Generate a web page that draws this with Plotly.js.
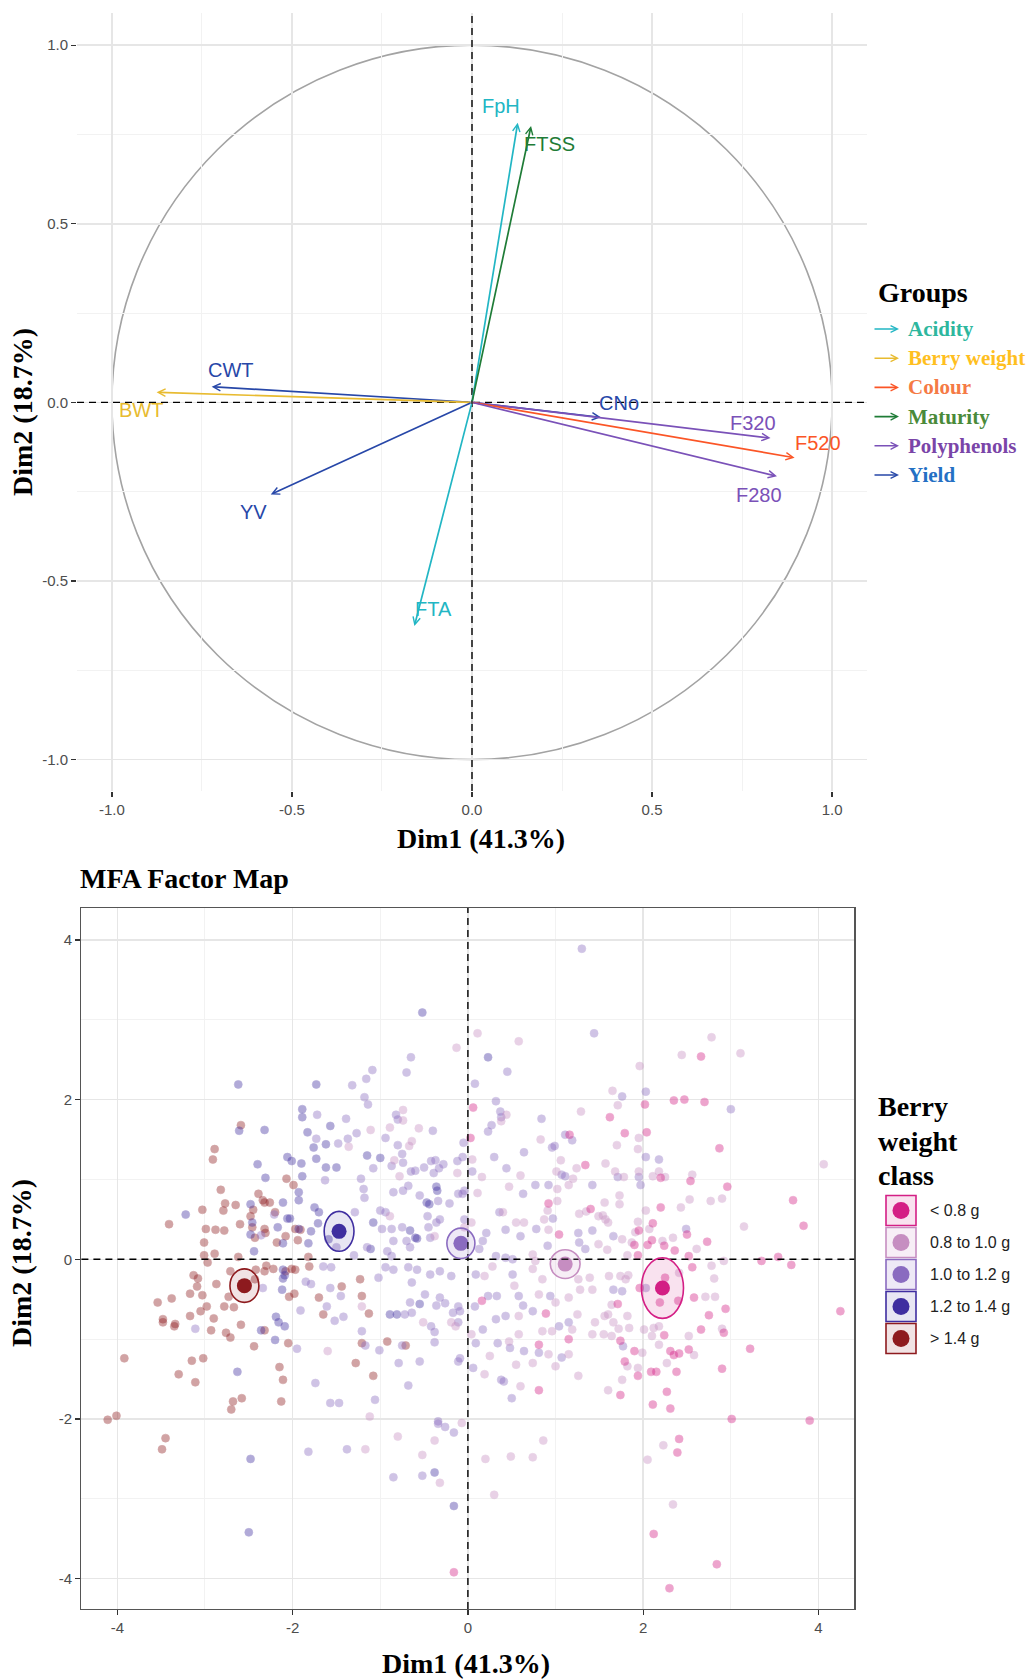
<!DOCTYPE html>
<html>
<head>
<meta charset="utf-8">
<script src="https://cdn.plot.ly/plotly-3.0.1.min.js"></script>
<style>html,body{margin:0;padding:0;background:#fff;}#chart{width:1030px;height:1679px;}</style>
</head>
<body>
<div id="chart"></div>
<script>
// ---------------- DATA: variables (correlation circle) ----------------
const varNames  = ['FpH','FTSS','CWT','BWT','YV','FTA','CNo','F320','F520','F280'];
const varGroups = ['Acidity','Maturity','Yield','Berry weight','Yield','Acidity','Yield','Polyphenols','Colour','Polyphenols'];
const varDim1   = [0.127, 0.164, -0.723, -0.876, -0.559, -0.160, 0.358, 0.829, 0.896, 0.847];
const varDim2   = [0.783, 0.774, 0.044, 0.028, -0.258, -0.626, -0.042, -0.100, -0.155, -0.207];
const groupNames = ['Acidity','Berry weight','Colour','Maturity','Polyphenols','Yield'];
const circleTickVals = [-1, -0.5, 0, 0.5, 1];
const circleTickText = ['-1.0','-0.5','0.0','0.5','1.0'];

// ---------------- DATA: individuals (MFA factor map) ----------------
const classNames = ['< 0.8 g','0.8 to 1.0 g','1.0 to 1.2 g','1.2 to 1.4 g','> 1.4 g'];
const ptsLt08 = [[2.66,2.54],[2.02,1.94],[2.35,1.99],[2.47,2.00],[2.70,1.97],[0.06,1.90],[1.62,1.78],[0.03,1.52],[1.16,1.56],[1.79,1.58],[2.04,1.59],[2.87,1.39],[1.34,1.18],[2.20,1.02],[2.54,0.98],
 [0.92,0.70],[1.40,0.63],[1.04,0.31],[0.16,-0.52],[0.89,-0.68],[1.15,-1.00],[0.81,-1.07],[0.81,-1.64],
 [2.96,0.91],[3.71,0.74],[3.83,0.42],[2.20,0.65],[2.11,0.45],[1.95,0.36],[2.50,0.31],[1.90,0.18],[2.05,0.18],[2.10,0.24],[2.24,0.17],[2.36,0.11],[2.73,0.22],[1.94,0.05],[2.52,0.04],[3.35,-0.02],[3.54,0.03],[3.69,-0.07],[2.56,-0.10],[1.96,-0.36],[2.25,-0.23],[2.58,-0.48],[2.94,-0.62],[2.75,-0.70],[2.40,-0.52],[2.19,-0.54],[1.71,-0.56],[1.74,-1.02],[2.24,-0.95],[2.66,-0.88],[2.92,-0.92],[3.22,-1.12],[4.25,-0.65],[1.90,-1.15],[2.31,-1.15],[2.35,-1.20],[2.41,-1.18],[2.52,-1.13],[1.79,-1.28],[1.94,-1.46],[2.09,-1.41],[2.15,-1.41],[2.38,-1.41],[2.90,-1.37],[1.74,-1.70],[2.27,-1.66],[2.11,-1.82],[2.31,-1.87],[3.01,-2.00],[3.90,-2.02],
 [2.41,-2.25],[2.39,-2.42],[2.12,-3.44],[2.84,-3.82],[2.30,-4.12],[-0.16,-3.92]];
const pts08to10 = [[-0.13,2.65],[-0.74,1.87],[-0.74,1.74],[-1.11,1.62],[-0.89,1.65],[-0.56,1.64],[-1.36,1.41],[-0.64,1.48],[-0.67,1.42],[-0.84,1.24],[-0.12,1.08],[-0.78,1.04],
 [0.11,2.83],[0.58,2.73],[1.96,2.42],[2.44,2.56],[2.78,2.78],[3.11,2.58],[1.65,2.11],[1.71,1.93],[0.38,1.73],[0.44,1.81],[1.29,1.85],[0.83,1.50],[1.95,1.52],[1.70,1.43],[1.94,1.38],[0.05,1.25],[1.06,1.24],[1.24,1.14],[1.57,1.20],[0.16,1.03],[0.60,1.05],[1.01,1.10],[1.20,1.01],[1.68,1.10],[1.78,1.03],[1.95,1.10],[2.11,1.04],[2.18,1.10],[2.25,1.03],[2.56,1.06],[4.06,1.19],
 [-1.60,-1.15],
 [-0.89,0.54],[-0.04,0.40],[0.04,0.46],[-0.38,0.29],[0.11,0.83],[0.47,0.91],[1.02,0.88],[1.15,0.93],[1.02,0.73],[0.91,0.61],[1.27,0.57],[1.49,0.54],[1.35,0.60],[0.87,0.50],[0.40,0.59],[0.55,0.46],[0.64,0.46],[0.92,0.37],[1.49,0.19],[0.74,0.06],[0.77,-0.02],[-1.21,-0.59],[-0.51,-0.79],[-0.19,-0.79],[-0.14,-0.84],[-1.12,-1.97],[0.19,-0.21],[0.28,-0.09],[0.53,-0.33],[0.74,-0.12],[0.85,-0.25],[0.81,-0.44],[1.00,-0.54],[1.15,-0.48],[1.26,-0.25],[1.28,-0.38],[1.39,-0.23],[1.42,-0.38],[1.25,-0.69],[1.19,-0.88],[0.96,-0.90],[0.85,-0.90],[0.92,-1.19],[1.15,-1.19],[1.26,-1.46],[1.45,-0.79],[1.42,-0.94],[0.58,-0.71],[0.04,-0.94],[0.47,-1.03],[0.58,-0.94],[0.25,-1.21],[0.55,-1.32],[0.74,-1.30],[0.19,-1.44],[0.60,-1.59],[1.00,-1.34],
 [3.15,0.41],[1.56,0.71],[1.73,0.69],[1.73,0.80],[2.03,0.61],[2.43,0.65],[2.53,0.75],[2.77,0.73],[2.90,0.76],[1.54,0.55],[1.57,0.50],[1.60,0.46],[1.94,0.47],[1.91,0.34],[2.07,0.38],[1.76,0.25],[1.87,0.21],[2.22,0.23],[2.34,0.27],[2.61,0.13],[1.59,0.12],[1.82,0.05],[2.92,-0.02],[2.78,-0.08],[2.81,-0.24],[1.61,-0.21],[1.74,-0.21],[1.83,-0.20],[1.80,-0.25],[2.41,-0.17],[2.71,-0.47],[2.82,-0.47],[1.64,-0.57],[1.60,-0.69],[1.66,-0.79],[1.82,-0.71],[1.56,-0.71],[1.84,-0.86],[1.72,-0.87],[2.01,-0.88],[2.12,-0.86],[2.18,-0.84],[1.55,-0.94],[1.64,-0.96],[2.10,-0.96],[2.18,-1.07],[2.52,-0.96],[2.90,-0.87],[1.99,-1.17],[2.58,-1.20],[1.82,-1.34],[1.94,-1.36],[2.27,-1.30],[1.76,-1.51],[1.60,-1.64],
 [-1.17,-2.38],[-0.80,-2.22],[-0.38,-2.27],[-0.07,-2.05],[-0.52,-2.45],[-0.32,-2.80],[0.20,-2.50],[0.49,-2.47],[0.74,-2.48],[0.86,-2.27],[0.30,-2.95],[2.05,-2.51],[2.23,-2.33],[2.34,-3.07]];
const pts10to12 = [[-0.70,2.34],[-1.09,2.37],[-1.16,2.26],[-1.32,2.18],[-1.18,2.03],[-1.14,1.94],[-1.72,1.81],[-1.39,1.76],[-0.40,1.61],[-1.27,1.58],[-1.73,1.51],[-1.37,1.51],[-0.94,1.52],[-1.48,1.45],[-0.80,1.43],[-0.05,1.46],[-1.08,1.14],[-0.75,1.32],[-0.50,1.15],[-0.12,1.23],[-0.06,1.28],[-0.39,1.08],[-1.63,0.99],[-1.22,1.01],
 [-0.65,1.10],[-0.60,1.11],[-0.42,1.23],[-0.37,1.24],[-0.33,1.14],[-0.28,1.19],[-0.82,1.81],[-0.80,1.75],[-0.87,1.17],[-0.74,1.21],[-0.65,2.53],
 [1.30,3.89],[1.44,2.83],[0.45,2.35],[0.08,2.20],[1.76,2.04],[2.03,2.10],[3.00,1.88],[0.32,1.98],[0.37,1.85],[0.38,1.78],[0.27,1.68],[0.23,1.60],[0.84,1.76],[0.96,1.40],[0.99,1.42],[1.11,1.56],[1.19,1.49],[0.64,1.34],[0.30,1.28],[2.03,1.28],[2.18,1.25],[0.44,1.14],[0.05,1.10],[1.07,1.06],[1.11,1.04],[1.71,1.03],[1.95,1.03],
 [-2.21,0.56],[-2.36,0.30],[-1.65,-0.09],[-1.56,-0.10],[-1.50,0.15],[-2.34,-0.36],[-1.85,-0.28],[-1.79,-0.31],[-1.57,-0.36],[-1.45,-0.46],[-1.61,-0.59],[-1.91,-0.64],[-1.52,-0.77],[-1.42,-0.72],[-1.95,-1.12],[-3.11,-0.87],[-1.74,-1.55],[-1.57,-1.80],[-1.47,-1.80],
 [-1.19,0.88],[-1.18,0.77],[-0.85,0.84],[-0.74,0.86],[-0.68,0.92],[-0.55,0.80],[-0.34,0.73],[-0.21,0.70],[-0.11,0.82],[0.63,0.82],[0.92,0.93],[1.42,0.93],[0.36,0.59],[0.43,0.37],[0.60,0.29],[0.78,0.38],[1.26,0.33],[1.42,0.36],[1.27,0.21],[1.34,0.13],[0.91,0.17],[-1.29,0.59],[-1.00,0.61],[-0.94,0.59],[-0.98,0.38],[-0.87,0.38],[-0.75,0.40],[-0.85,0.23],[-0.70,0.23],[-0.66,0.15],[-0.45,0.40],[-0.36,0.46],[-0.32,0.50],[-0.46,0.54],[-0.04,0.50],[0.17,0.23],[0.13,0.13],[-1.15,0.15],[-0.92,0.10],[-0.87,0.04],[-1.30,0.05],[-0.43,0.27],[0.32,0.04],[0.43,0.02],[0.51,0.00],
 [-0.94,-0.10],[-0.85,-0.13],[-0.68,-0.10],[-0.58,-0.13],[-1.02,-0.23],[-0.43,-0.19],[-0.32,-0.15],[-0.19,-0.21],[-0.64,-0.29],[-0.49,-0.44],[-0.32,-0.48],[-0.26,-0.55],[-0.66,-0.54],[-0.11,-0.59],[-0.36,-0.58],[-0.17,-0.67],[-0.72,-0.69],[-0.64,-0.67],[-0.42,-0.84],[-0.38,-0.91],[-0.11,-0.79],[-1.21,-0.90],[-1.17,-1.08],[-0.75,-1.08],[-1.01,-1.14],[-0.79,-1.30],[-0.55,-1.28],[-0.38,-1.04],[-0.11,-1.28],[-0.09,-1.24],[-0.68,-1.58],[-1.06,-1.76],[-0.34,-2.03],[0.08,-0.59],[0.23,-0.46],[0.33,-0.46],[0.09,-0.19],[0.51,-0.19],[0.58,-0.46],[0.63,-0.58],[0.74,-0.65],[0.94,-0.46],[1.15,-0.79],[1.04,-0.84],[0.81,-1.17],[1.07,-1.23],[0.43,-0.71],[0.32,-0.75],[0.17,-0.88],[0.09,-1.05],[0.34,-1.05],[0.48,-1.11],[0.64,-1.15],[0.06,-1.36],[0.38,-1.51],[0.41,-1.53],[0.50,-1.74],
 [-0.06,0.82],[-0.04,0.86],[0.77,0.93],[0.97,0.51],[0.21,0.33],[-0.09,-0.65],
 [1.97,0.93],[1.66,0.29],[2.49,0.38],[1.66,-0.38],[1.76,-0.40],[2.03,-0.36],[1.77,-1.09],
 [-1.82,-2.41],[-1.38,-2.38],[-0.34,-2.06],[-0.26,-2.10],[-0.16,-2.17],[-0.85,-2.73],[-0.52,-2.71]];
const pts12to14 = [[-0.52,3.09],[-1.73,2.19],[-2.62,2.19],[-1.89,1.88],[-1.89,1.78],[-1.57,1.67],[-2.61,1.61],[-2.32,1.62],[-1.83,1.59],[-1.62,1.44],[-1.76,1.40],[-2.40,1.19],[-2.06,1.28],[-2.01,1.23],[-1.90,1.20],[-1.73,1.26],[-1.62,1.15],[-1.50,1.15],[-1.15,1.30],[-1.00,1.27],[-2.31,1.02],[-1.89,1.04],
 [0.23,2.53],
 [-3.22,0.56],[-2.48,0.69],[-2.46,0.46],[-2.11,0.71],[-2.06,0.51],[-2.03,0.51],[-1.93,0.84],[-1.93,0.74],[-1.93,0.38],[-2.48,0.31],[-2.17,0.40],[-2.11,0.20],[-1.82,0.20],[-2.44,0.10],[-1.79,0.35],[-1.75,0.65],[-1.70,0.59],[-1.71,0.45],[-1.59,0.25],[-2.11,-0.13],[-2.11,-0.24],[-2.09,-0.20],[-2.12,-0.38],[-2.19,-0.72],[-2.16,-0.79],[-2.09,-0.84],[-2.36,-0.89],[-2.20,-1.01],[-2.63,-1.41],
 [-0.36,0.91],[-0.35,0.86],[-0.47,0.71],[-0.44,0.69],[-1.08,0.46],[-0.66,0.36],[-0.60,0.27],[-0.58,0.26],[-1.11,0.13],[-0.55,-0.56],[-0.89,-0.69],[-0.81,-0.69],
 [-2.48,-2.50],[-0.38,-2.67],[-0.16,-3.09],[-2.50,-3.42]];
const ptsGt14 = [[-2.59,1.68],[-2.89,1.38],[-2.91,1.25],[-2.07,1.01],
 [-3.41,0.44],[-2.82,0.87],[-2.77,0.70],[-2.79,0.61],[-2.65,0.68],[-3.03,0.62],[-2.99,0.38],[-2.88,0.37],[-2.78,0.36],[-3.01,0.21],[-3.01,0.05],[-2.89,0.07],[-2.97,-0.04],[-2.60,0.44],[-2.62,0.03],[-2.45,0.62],[-2.48,0.54],[-2.46,0.40],[-2.39,0.82],[-2.34,0.74],[-2.26,0.71],[-2.32,0.71],[-2.20,0.59],[-1.99,0.93],[-1.97,0.38],[-1.91,0.37],[-2.32,0.38],[-2.31,0.33],[-2.43,0.27],[-2.08,0.29],[-2.18,0.21],[-1.94,0.24],[-1.82,0.03],[-1.81,-0.09],[-2.30,-0.08],[-2.32,-0.15],[-2.22,-0.12],[-2.42,-0.13],[-2.43,-0.25],[-2.71,-0.15],[-3.13,-0.20],[-3.08,-0.24],[-3.09,-0.34],[-3.17,-0.43],[-3.03,-0.45],[-2.87,-0.31],[-2.73,-0.47],[-2.98,-0.59],[-3.05,-0.65],[-3.38,-0.49],[-3.54,-0.54],[-3.48,-0.75],[-3.48,-0.79],[-3.34,-0.81],[-3.35,-0.84],[-3.17,-0.71],[-2.90,-0.74],[-2.93,-0.89],[-2.78,-0.59],[-2.67,-0.60],[-2.76,-0.92],[-2.71,-0.98],[-2.59,-0.82],[-2.44,-1.09],[-2.08,-0.15],[-2.01,-0.12],[-1.97,-0.13],[-2.04,-0.47],[-1.98,-0.43],[-1.70,-0.48],[-1.44,-0.34],[-1.65,-0.69],[-2.32,-0.89],[-2.05,-1.05],[-3.92,-1.24],[-3.15,-1.27],[-3.02,-1.24],[-3.30,-1.44],[-3.11,-1.54],[-2.15,-1.35],[-2.11,-1.51],[-2.13,-1.78],[-2.68,-1.78],[-2.58,-1.74],[-2.70,-1.88],[-4.11,-2.01],[-4.01,-1.96],
 [-1.23,-0.25],[-1.21,-0.46],[-1.13,-0.68],[-1.21,-1.05],[-0.92,-1.03],[-0.71,-1.08],[-1.28,-1.30],[-1.08,-1.46],
 [-3.45,-2.24],[-3.49,-2.38]];
const centroidDim1 = [2.22, 1.11, -0.08, -1.47, -2.55];
const centroidDim2 = [-0.36, -0.06, 0.20, 0.35, -0.33];
const ellipseHalfDim1 = [0.24, 0.17, 0.16, 0.17, 0.165];
const ellipseHalfDim2 = [0.38, 0.18, 0.19, 0.25, 0.21];
const mapTickVals = [-4, -2, 0, 2, 4];
const mapTickText = ['-4','-2','0','2','4'];

// ---------------- STYLES ----------------
const W = 1030, H = 1679;
const px = v => v / W, py = v => 1 - v / H;
const groupArrowColors = {'Acidity':'#22B6C4','Berry weight':'#E8BB30','Colour':'#FB5526','Maturity':'#1F7C37','Polyphenols':'#7A51B8','Yield':'#2747A8'};
const groupTextColors  = {'Acidity':'#2DB79E','Berry weight':'#FFBF1F','Colour':'#F57A45','Maturity':'#4A8A3A','Polyphenols':'#7A45A8','Yield':'#2470C4'};
const labelShift = {FpH:[-17,17],FTSS:[18,-18],CWT:[19,17],BWT:[-16,-18],YV:[-17,-17],FTA:[19,17],CNo:[18,14],F320:[-18,15],F520:[23,15],F280:[-18,-19]};
const classColors = ['#D41F85','#C68EC1','#8A6BC0','#3F2EA0','#8E1B1E'];
const classFills  = ['rgba(212,31,133,0.13)','rgba(198,142,193,0.15)','rgba(138,107,192,0.15)','rgba(63,46,160,0.12)','rgba(142,27,30,0.12)'];
const serif = 'Liberation Serif, Times New Roman, serif';
const sans = 'Liberation Sans, Arial, sans-serif';
const classPts = [ptsLt08, pts08to10, pts10to12, pts12to14, ptsGt14];

const traces = [];
traces.push({x: varDim1, y: varDim2, type:'scatter', mode:'markers', marker:{opacity:0}, hoverinfo:'text', text: varNames, xaxis:'x', yaxis:'y', showlegend:false});
const drawOrder = [4,3,2,1,0];
drawOrder.forEach(i => {
  traces.push({x: classPts[i].map(p=>p[0]), y: classPts[i].map(p=>p[1]), type:'scatter', mode:'markers', name: classNames[i],
    marker:{size:8, color: classColors[i], opacity:0.4, line:{width:0.6, color: classColors[i]}}, xaxis:'x2', yaxis:'y2', showlegend:false});
});
traces.push({x: centroidDim1, y: centroidDim2, type:'scatter', mode:'markers', text: classNames, hoverinfo:'text',
  marker:{size:15, color: classColors, line:{width:0}}, xaxis:'x2', yaxis:'y2', showlegend:false});

const shapes = [];
const annotations = [];
shapes.push({type:'circle', xref:'x', yref:'y', x0:-1, x1:1, y0:-1, y1:1, line:{color:'#A3A3A3', width:1.6}, layer:'below'});
shapes.push({type:'line', xref:'x domain', yref:'y', x0:0, x1:1, y0:0, y1:0, line:{color:'#000', width:1.4, dash:'7px,5px'}});
shapes.push({type:'line', xref:'x', yref:'y domain', x0:0, x1:0, y0:0, y1:1, line:{color:'#000', width:1.4, dash:'7px,5px'}});
shapes.push({type:'line', xref:'x2 domain', yref:'y2', x0:0, x1:1, y0:0, y1:0, line:{color:'#000', width:1.4, dash:'7px,5px'}});
shapes.push({type:'line', xref:'x2', yref:'y2 domain', x0:0, x1:0, y0:0, y1:1, line:{color:'#000', width:1.4, dash:'7px,5px'}});
for (let i=0;i<5;i++){
  shapes.push({type:'circle', xref:'x2', yref:'y2', x0:centroidDim1[i]-ellipseHalfDim1[i], x1:centroidDim1[i]+ellipseHalfDim1[i],
    y0:centroidDim2[i]-ellipseHalfDim2[i], y1:centroidDim2[i]+ellipseHalfDim2[i], line:{color:classColors[i], width:1.6}, fillcolor:classFills[i]});
}
varNames.forEach((n,i) => {
  const col = groupArrowColors[varGroups[i]];
  annotations.push({x:varDim1[i], y:varDim2[i], xref:'x', yref:'y', ax:0, ay:0, axref:'x', ayref:'y', text:'', showarrow:true,
    arrowhead:5, arrowsize:0.85, arrowwidth:1.7, arrowcolor:col, standoff:0});
  annotations.push({x:varDim1[i], y:varDim2[i], xref:'x', yref:'y', text:n, showarrow:false, xshift:labelShift[n][0], yshift:labelShift[n][1],
    font:{family:sans, size:20, color:col}});
});
annotations.push({xref:'paper', yref:'paper', x:px(876), y:py(292), xanchor:'left', yanchor:'middle', text:'Groups', showarrow:false,
  font:{family:serif, size:28, color:'#000', weight:'bold'}});
groupNames.forEach((g,i) => {
  const yy = 329 + 29.2*i;
  annotations.push({xref:'paper', yref:'paper', x:px(899), y:py(yy), ax:-26, ay:0, text:'', showarrow:true, arrowhead:5, arrowsize:0.85, arrowwidth:1.6, arrowcolor:groupArrowColors[g], standoff:0});
  annotations.push({xref:'paper', yref:'paper', x:px(906), y:py(yy), xanchor:'left', yanchor:'middle', text:g, showarrow:false,
    font:{family:serif, size:21, color:groupTextColors[g], weight:'bold'}});
});
['Berry','weight','class'].forEach((t,i) => {
  annotations.push({xref:'paper', yref:'paper', x:px(876), y:py([1106,1141,1175][i]), xanchor:'left', yanchor:'middle', text:t, showarrow:false,
    font:{family:serif, size:28, color:'#000', weight:'bold'}});
});
classNames.forEach((c,i) => {
  const cy = 1210.5 + 32*i, cx = 901;
  shapes.push({type:'rect', xref:'paper', yref:'paper', x0:px(cx-15), x1:px(cx+15), y0:py(cy+15), y1:py(cy-15), line:{color:classColors[i], width:1.6}, fillcolor:classFills[i]});
  shapes.push({type:'circle', xref:'paper', yref:'paper', x0:px(cx-8.5), x1:px(cx+8.5), y0:py(cy+8.5), y1:py(cy-8.5), line:{width:0}, fillcolor:classColors[i]});
  annotations.push({xref:'paper', yref:'paper', x:px(928), y:py(cy), xanchor:'left', yanchor:'middle', text:c, showarrow:false,
    font:{family:sans, size:16, color:'#222'}});
});
const axTitle = {family:serif, size:28, color:'#000', weight:'bold'};
annotations.push({xref:'paper', yref:'paper', x:px(481), y:py(839), xanchor:'center', yanchor:'middle', text:'Dim1 (41.3%)', showarrow:false, font:axTitle});
annotations.push({xref:'paper', yref:'paper', x:px(23), y:py(412), xanchor:'center', yanchor:'middle', text:'Dim2 (18.7%)', textangle:-90, showarrow:false, font:axTitle});
annotations.push({xref:'paper', yref:'paper', x:px(466), y:py(1663), xanchor:'center', yanchor:'middle', text:'Dim1 (41.3%)', showarrow:false, font:axTitle});
annotations.push({xref:'paper', yref:'paper', x:px(21), y:py(1263), xanchor:'center', yanchor:'middle', text:'Dim2 (18.7%)', textangle:-90, showarrow:false, font:axTitle});

const tickFont = {family:sans, size:15, color:'#4D4D4D'};
const gridMajor = '#E6E6E6', gridMinor = '#F2F2F2';
const layout = {
  width: W, height: H, margin:{l:0, r:0, t:0, b:0}, paper_bgcolor:'#fff', plot_bgcolor:'#fff', showlegend:false,
  title:{text:'MFA Factor Map', xref:'paper', yref:'paper', x:px(80), xanchor:'left', y:py(878), yanchor:'middle', font:{family:serif, size:28, color:'#000', weight:'bold'}},
  xaxis:{domain:[px(77), px(867)], range:[-1.097, 1.097], anchor:'y', tickvals:circleTickVals, ticktext:circleTickText, tickfont:tickFont,
    ticks:'outside', ticklen:5, tickcolor:'#333', tickwidth:1.2, showgrid:true, gridcolor:gridMajor, gridwidth:1.6, zeroline:false, showline:false,
    minor:{dtick:0.25, showgrid:true, gridcolor:gridMinor, gridwidth:1}},
  yaxis:{domain:[py(791), py(13)], range:[-1.088, 1.09], anchor:'x', tickvals:circleTickVals, ticktext:circleTickText, tickfont:tickFont,
    ticks:'outside', ticklen:5, tickcolor:'#333', tickwidth:1.2, showgrid:true, gridcolor:gridMajor, gridwidth:1.6, zeroline:false, showline:false,
    minor:{dtick:0.25, showgrid:true, gridcolor:gridMinor, gridwidth:1}},
  xaxis2:{domain:[px(81.4), px(854.4)], range:[-4.41, 4.41], anchor:'y2', tickvals:mapTickVals, ticktext:mapTickText, tickfont:tickFont,
    ticks:'outside', ticklen:5, tickcolor:'#333', tickwidth:1.2, showgrid:true, gridcolor:gridMajor, gridwidth:1.4, zeroline:false,
    showline:true, mirror:true, linecolor:'#555', linewidth:1.2, minor:{dtick:1, showgrid:true, gridcolor:gridMinor, gridwidth:1}},
  yaxis2:{domain:[py(1609), py(908)], range:[-4.38, 4.40], anchor:'x2', tickvals:mapTickVals, ticktext:mapTickText, tickfont:tickFont,
    ticks:'outside', ticklen:5, tickcolor:'#333', tickwidth:1.2, showgrid:true, gridcolor:gridMajor, gridwidth:1.4, zeroline:false,
    showline:true, mirror:true, linecolor:'#555', linewidth:1.2, minor:{dtick:1, showgrid:true, gridcolor:gridMinor, gridwidth:1}},
  shapes: shapes, annotations: annotations
};
Plotly.newPlot('chart', traces, layout, {staticPlot:true, displayModeBar:false});
</script>
</body>
</html>
